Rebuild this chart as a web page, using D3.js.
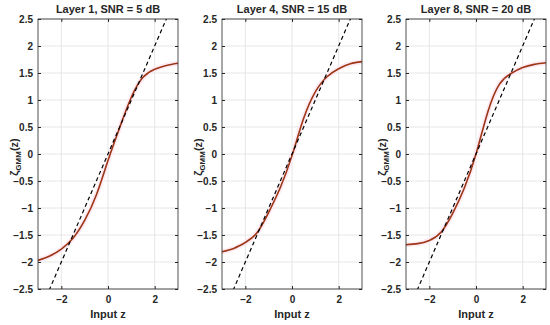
<!DOCTYPE html>
<html>
<head>
<meta charset="utf-8">
<script src="https://cdn.jsdelivr.net/npm/d3@7"></script>
<style>
html,body{margin:0;padding:0;background:#fff;}
svg{display:block;}
text{font-family:"Liberation Sans",Arial,Helvetica,sans-serif;font-weight:bold;fill:#262626;}
</style>
</head>
<body>
<svg id="chart" width="550" height="325"></svg>
<script>
const zValues = [-3, -2.5, -2, -1.5, -1, -0.5, 0, 0.5, 1, 1.5, 2, 2.5, 3];
const layer1 = [-1.97, -1.89, -1.76, -1.56, -1.23, -0.76, -0.12, 0.49, 1.05, 1.42, 1.57, 1.64, 1.68];
const layer4 = [-1.81, -1.75, -1.64, -1.46, -1.08, -0.62, -0.03, 0.66, 1.15, 1.43, 1.58, 1.67, 1.71];
const layer8 = [-1.68, -1.66, -1.60, -1.45, -1.10, -0.63, 0.00, 0.77, 1.29, 1.49, 1.60, 1.66, 1.69];
const identityZ = [-3, 3];
const titles = ["Layer 1, SNR = 5 dB", "Layer 4, SNR = 15 dB", "Layer 8, SNR = 20 dB"];
const yTicks = [-2.5, -2, -1.5, -1, -0.5, 0, 0.5, 1, 1.5, 2, 2.5];
const xTicks = [-2, 0, 2];
const series = [layer1, layer4, layer8];

(function () {
  const svg = d3.select("#chart");
  const panelLeft = [38, 222, 406];
  const W = 140, plotTop = 19, plotBottom = 289;

  series.forEach((vals, i) => {
    const g = svg.append("g").attr("transform", `translate(${panelLeft[i]},0)`);
    const x = d3.scaleLinear().domain([-3, 3]).range([0, W]);
    const y = d3.scaleLinear().domain([-2.5, 2.5]).range([plotBottom, plotTop]);

    g.append("g").selectAll("line").data(yTicks).join("line")
      .attr("x1", 0).attr("x2", W).attr("y1", d => y(d)).attr("y2", d => y(d))
      .attr("stroke", "#e6e6e6").attr("stroke-width", 1);
    g.append("g").selectAll("line").data(xTicks).join("line")
      .attr("y1", plotTop).attr("y2", plotBottom).attr("x1", d => x(d)).attr("x2", d => x(d))
      .attr("stroke", "#e6e6e6").attr("stroke-width", 1);

    const clipId = "clip" + i;
    g.append("clipPath").attr("id", clipId).append("rect")
      .attr("x", 0).attr("y", plotTop).attr("width", W).attr("height", plotBottom - plotTop);
    const plot = g.append("g").attr("clip-path", `url(#${clipId})`);

    const pts = zValues.map((z, k) => [z, vals[k]]);
    const line = d3.line().x(d => x(d[0])).y(d => y(d[1])).curve(d3.curveNatural);

    plot.append("path").attr("d", line(pts)).attr("fill", "none")
      .attr("stroke", "#fdeaf2").attr("stroke-width", 5).attr("stroke-linecap", "round");
    plot.append("path").attr("d", line(pts)).attr("fill", "none")
      .attr("stroke", "#9c3616").attr("stroke-width", 1.6);
    plot.append("path").attr("d", d3.line().x(d => x(d)).y(d => y(d))(identityZ))
      .attr("fill", "none").attr("stroke", "#000").attr("stroke-width", 1.2)
      .attr("stroke-dasharray", "4,3");

    const yAxisL = d3.axisLeft(y).tickValues(yTicks).tickSize(-3).tickPadding(5).tickFormat(d3.format("~g"));
    const yAxisR = d3.axisRight(y).tickValues(yTicks).tickSize(-3).tickFormat("");
    const xAxisB = d3.axisBottom(x).tickValues(xTicks).tickSize(-3).tickPadding(7).tickFormat(d3.format("~g"));
    const xAxisT = d3.axisTop(x).tickValues(xTicks).tickSize(-3).tickFormat("");
    const style = sel => {
      sel.select(".domain").remove();
      sel.selectAll("line").attr("stroke", "#262626");
      sel.selectAll("text").attr("font-size", 10).attr("font-weight", "bold").attr("fill", "#262626")
        .attr("font-family", "Liberation Sans, Arial, sans-serif");
    };
    g.append("g").call(yAxisL).call(style);
    g.append("g").attr("transform", `translate(${W},0)`).call(yAxisR).call(style);
    g.append("g").attr("transform", `translate(0,${plotBottom})`).call(xAxisB).call(style);
    g.append("g").attr("transform", `translate(0,${plotTop})`).call(xAxisT).call(style);

    g.append("rect").attr("x", 0).attr("y", plotTop).attr("width", W).attr("height", plotBottom - plotTop)
      .attr("fill", "none").attr("stroke", "#262626").attr("stroke-width", 0.8);

    g.append("text").attr("x", W / 2).attr("y", 13).attr("text-anchor", "middle")
      .attr("font-size", 11).text(titles[i]);
    g.append("text").attr("x", W / 2).attr("y", 318).attr("text-anchor", "middle")
      .attr("font-size", 11).text("Input z");

    const yl = g.append("text").attr("transform", `translate(-20,${(plotTop + plotBottom) / 2 + 3}) rotate(-90)`)
      .attr("text-anchor", "middle").attr("font-size", 11);
    yl.append("tspan").text("ζ");
    yl.append("tspan").attr("font-size", 8).attr("dy", 3).text("GMM");
    yl.append("tspan").attr("dy", -3).text("(z)");
  });
})();
</script>
</body>
</html>
